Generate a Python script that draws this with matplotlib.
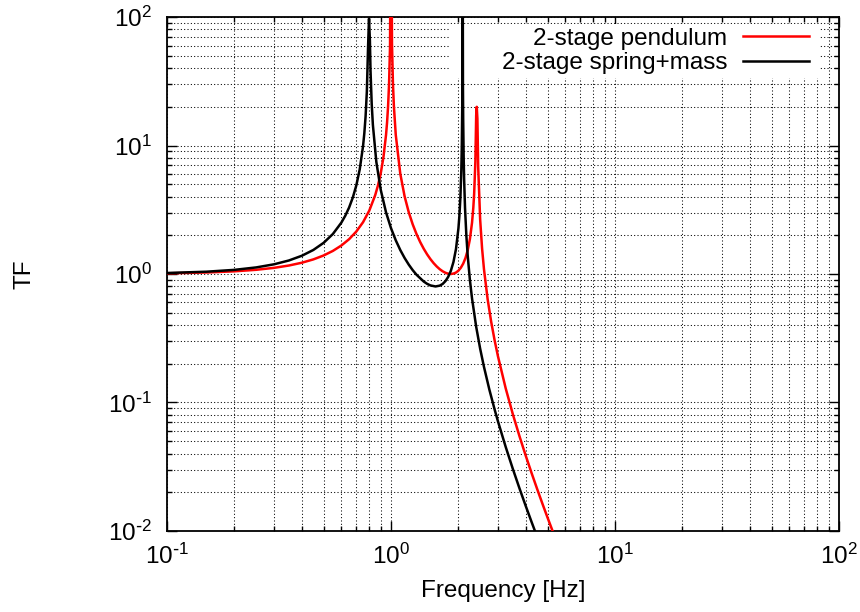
import matplotlib
matplotlib.use("Agg")
import matplotlib.pyplot as plt
from matplotlib.patches import Rectangle
from matplotlib.ticker import FuncFormatter
import numpy as np

# values (frequency in Hz, transfer function magnitude)
freq_pend = [0.1, 0.15, 0.2, 0.25, 0.3, 0.35, 0.4, 0.45, 0.5, 0.55, 0.6, 0.65,
             0.7, 0.75, 0.8, 0.85, 0.875, 0.9, 0.925, 0.95, 0.96, 0.97, 0.98,
             0.99, 1.0, 1.01, 1.02, 1.03, 1.05, 1.1, 1.15, 1.2, 1.25, 1.3, 1.35,
             1.4, 1.45, 1.5, 1.55, 1.6, 1.65, 1.7, 1.75, 1.8, 1.85, 1.9, 1.95,
             2.0, 2.05, 2.1, 2.15, 2.2, 2.25, 2.3, 2.33, 2.35, 2.38, 2.4, 2.414,
             2.43, 2.45, 2.5, 2.55, 2.6, 2.7, 2.8, 2.9, 3.0, 3.25, 3.5, 3.75,
             4.0, 4.25, 4.5, 4.75, 5.0, 5.5]
tf_pend = [1.012, 1.027, 1.049, 1.078, 1.116, 1.164, 1.224, 1.299, 1.393, 1.512,
           1.665, 1.866, 2.140, 2.528, 3.117, 4.108, 4.903, 6.099, 8.092, 12.08,
           15.06, 20.01, 29.86, 58.9, 2300, 61.9, 30.54, 20.26, 12.10, 6.027,
           4.019, 3.023, 2.432, 2.043, 1.771, 1.571, 1.420, 1.304, 1.214, 1.144,
           1.090, 1.050, 1.022, 1.005, 1.000, 1.007, 1.026, 1.062, 1.119, 1.204,
           1.332, 1.533, 1.868, 2.512, 3.273, 4.176, 7.488, 17.15, 20.0, 16.2,
           6.821, 2.656, 1.580, 1.091, 0.636, 0.4247, 0.3054, 0.2302, 0.129,
           0.0808, 0.05427, 0.03825, 0.02796, 0.02102, 0.01617, 0.01268, 0.008169]

freq_spring = [0.1, 0.15, 0.2, 0.25, 0.3, 0.35, 0.4, 0.45, 0.5, 0.55, 0.6, 0.625,
               0.65, 0.675, 0.7, 0.725, 0.75, 0.76, 0.77, 0.78, 0.79, 0.7975,
               0.805, 0.81, 0.82, 0.83, 0.86, 0.9, 0.95, 1.0, 1.05, 1.1, 1.15,
               1.2, 1.25, 1.3, 1.4, 1.45, 1.5, 1.58, 1.65, 1.7, 1.75, 1.8, 1.85,
               1.9, 1.95, 2.0, 2.02, 2.04, 2.06, 2.07, 2.08, 2.085, 2.089, 2.095,
               2.1, 2.11, 2.12, 2.14, 2.17, 2.2, 2.25, 2.3, 2.4, 2.5, 2.6, 2.75,
               2.9, 3.0, 3.25, 3.5, 3.75, 4.0, 4.25, 4.5]
tf_spring = [1.018, 1.042, 1.077, 1.125, 1.189, 1.274, 1.387, 1.538, 1.747, 2.047,
             2.508, 2.842, 3.292, 3.928, 4.892, 6.521, 9.861, 12.43, 16.85, 26.23,
             59.4, 97.0, 65.5, 38.45, 21.04, 14.46, 7.443, 4.509, 3.019, 2.273,
             1.829, 1.536, 1.332, 1.183, 1.071, 0.9864, 0.8734, 0.8381, 0.8147,
             0.800, 0.8116, 0.8366, 0.8802, 0.9498, 1.060, 1.240, 1.564, 2.273,
             2.850, 3.905, 6.427, 9.70, 20.33, 46.3, 500, 28.87, 15.83, 8.205,
             5.50, 3.258, 1.975, 1.387, 0.8979, 0.6442, 0.3883, 0.2623, 0.1893,
             0.1254, 0.08831, 0.07163, 0.04515, 0.03033, 0.02133, 0.01554,
             0.01164, 0.008915]

labels = ["2-stage pendulum", "2-stage spring+mass"]
colors = ["#ff0000", "#000000"]

plt.rcParams["font.family"] = ["Liberation Sans", "DejaVu Sans"]
plt.rcParams["font.size"] = 17.5


def decade_label(v, pos):
    e = int(round(np.log10(v)))
    if e < 0:
        return r"$\mathregular{10^{\text{-}%d}}$" % (-e)
    return r"$\mathregular{10^{%d}}$" % e


fig = plt.figure(figsize=(8.6, 6.12), dpi=100)
ax = fig.add_axes([0.1942, 0.1324, 0.7814, 0.8398])

ax.plot(freq_pend, tf_pend, color=colors[0], lw=1.8, label=labels[0], zorder=3)
ax.plot(freq_spring, tf_spring, color=colors[1], lw=1.8, label=labels[1], zorder=3)

ax.set_xscale("log")
ax.set_yscale("log")
ax.set_xlim(0.1, 100)
ax.set_ylim(0.01, 100)
ax.xaxis.set_major_formatter(FuncFormatter(decade_label))
ax.yaxis.set_major_formatter(FuncFormatter(decade_label))

ax.set_axisbelow(True)
ax.grid(True, which="both", color="black", lw=0.75, ls=(0, (1, 2.2)))
ax.tick_params(which="both", direction="in", top=True, right=True, width=1.0)
ax.tick_params(which="major", length=7)
ax.tick_params(which="minor", length=3.5)
ax.tick_params(axis="x", which="major", pad=9)
ax.tick_params(axis="y", which="major", pad=11)
for sp in ax.spines.values():
    sp.set_linewidth(1.3)

# opaque area behind the key hides the grid
ax.add_patch(Rectangle((0.421, 0.882), 0.551, 0.104, transform=ax.transAxes,
                       facecolor="white", edgecolor="none", zorder=1))

ax.legend(loc="upper right", bbox_to_anchor=(0.955, 0.979), frameon=False,
          markerfirst=False, handlelength=2.7, handletextpad=0.65,
          labelspacing=0.1, borderpad=0, borderaxespad=0, fontsize=17.5)

ax.set_xlabel("Frequency [Hz]", labelpad=8)
ax.set_ylabel("TF", labelpad=52)

fig.savefig("out.png", dpi=100)
